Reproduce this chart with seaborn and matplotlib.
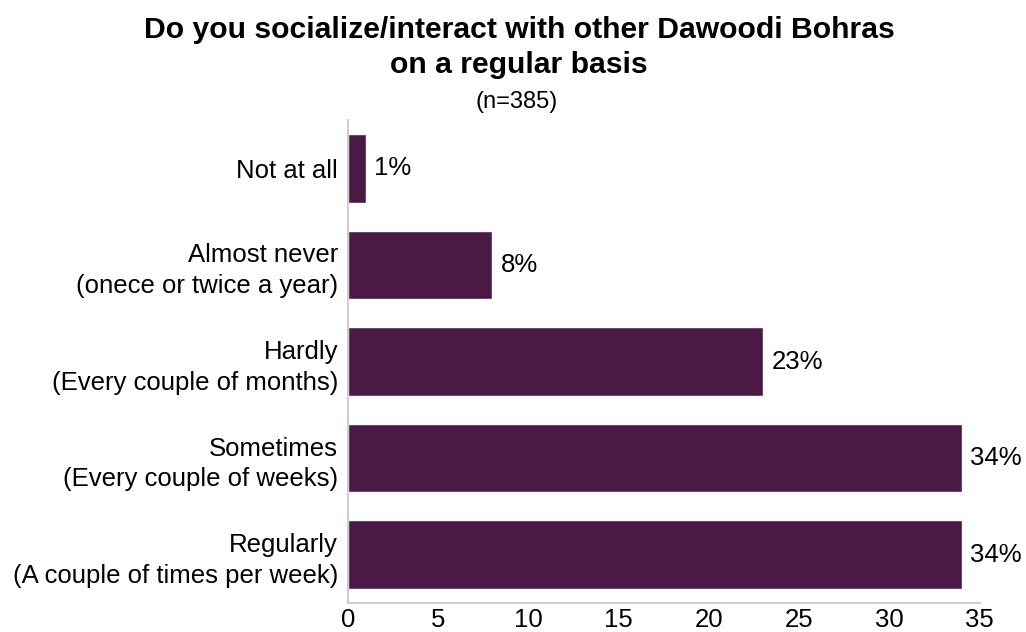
import pandas as pd
import matplotlib
matplotlib.use("Agg")
import matplotlib.pyplot as plt
import seaborn as sns

# -----------------------------
# DATA
# -----------------------------
categories = [
    "Not at all",
    "Almost never\n(onece or twice a year)",
    "Hardly\n(Every couple of months)",
    "Sometimes\n(Every couple of weeks)",
    "Regularly\n(A couple of times per week)",
]
percent = [1, 8, 23, 34, 34]
x_ticks = [0, 5, 10, 15, 20, 25, 30, 35]

df = pd.DataFrame({"Category": categories, "Percent": percent})

# -----------------------------
# STYLE
# -----------------------------
sns.set_style("white")
plt.rcParams["font.family"] = ["Liberation Sans", "DejaVu Sans"]
plt.rcParams["text.color"] = "black"
plt.rcParams["xtick.color"] = "black"
plt.rcParams["ytick.color"] = "black"

bar_color = "#4a1a45"
axis_color = "#c4c4c4"

fig = plt.figure(figsize=(10.26, 6.32), dpi=100)
ax = fig.add_axes([0.339, 0.046, 0.616, 0.764])

sns.barplot(data=df, x="Percent", y="Category", orient="h",
            color=bar_color, width=0.71, saturation=1, ax=ax)

# value labels at bar ends
ax.bar_label(ax.containers[0], labels=[f"{v}%" for v in percent],
             padding=6, fontsize=18.5)

ax.set_xlim(0, 35)
ax.set_ylim(4.5, -0.5)
ax.set_xticks(x_ticks)
ax.set_xlabel("")
ax.set_ylabel("")
ax.tick_params(axis="both", length=0, labelsize=18.5, colors="black")
ax.tick_params(axis="y", pad=7)
ax.tick_params(axis="x", pad=4)
for lbl in ax.get_yticklabels():
    lbl.set_linespacing(1.35)

for side in ["top", "right"]:
    ax.spines[side].set_visible(False)
for side in ["left", "bottom"]:
    ax.spines[side].set_color(axis_color)
    ax.spines[side].set_linewidth(1.2)

# -----------------------------
# TITLE
# -----------------------------
fig.text(0.506, 1 - 30 / 632, "Do you socialize/interact with other Dawoodi Bohras",
         ha="center", va="center", fontsize=21.7, fontweight="bold")
fig.text(0.506, 1 - 65 / 632, "on a regular basis",
         ha="center", va="center", fontsize=21.7, fontweight="bold")
fig.text(0.504, 1 - 102 / 632, "(n=385)",
         ha="center", va="center", fontsize=17)

plt.savefig("out.png", dpi=100)
plt.close()
